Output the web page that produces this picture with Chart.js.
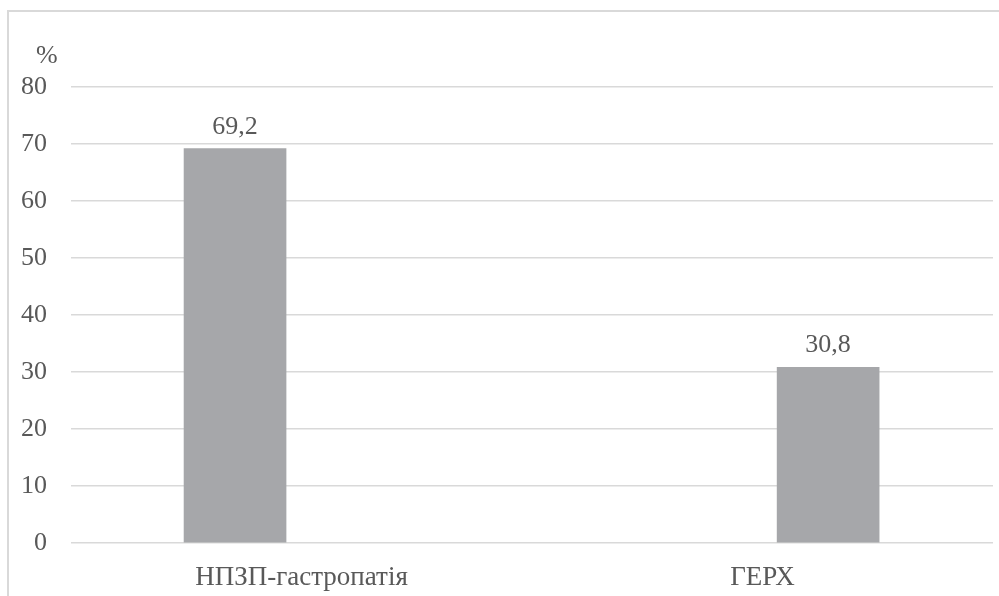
<!DOCTYPE html>
<html>
<head>
<meta charset="utf-8">
<script src="https://cdn.jsdelivr.net/npm/chart.js@4.4.0/dist/chart.umd.min.js"></script>
<style>
  body { margin: 0; background: #fff; overflow: hidden; }
  #wrap { position: relative; width: 999px; height: 596px; }
  #frame { position: absolute; left: 7px; top: 10px; width: 1100px; height: 700px;
           border-left: 2px solid #d9d9d9; border-top: 2px solid #d9d9d9; pointer-events: none; }
  canvas { position: absolute; left: 0; top: 0; }
</style>
</head>
<body>
<div id="wrap">
  <canvas id="chart" width="999" height="596"></canvas>
  <div id="frame"></div>
</div>
<script>
const categories = ['НПЗП-гастропатія', 'ГЕРХ'];
const values = [69.2, 30.8];
const valueLabels = ['69,2', '30,8'];
const yTicks = [0, 10, 20, 30, 40, 50, 60, 70, 80];

const textColor = '#595959';
const serif = '"Liberation Serif", "Times New Roman", serif';

// value labels above the bars and the % unit above the axis
const labelsPlugin = {
  id: 'labels',
  afterDatasetsDraw(chart) {
    const ctx = chart.ctx;
    ctx.save();
    ctx.font = '26px ' + serif;
    ctx.fillStyle = textColor;
    ctx.textAlign = 'center';
    ctx.textBaseline = 'alphabetic';
    chart.getDatasetMeta(0).data.forEach(function(bar, i) {
      ctx.fillText(valueLabels[i], bar.x, bar.y - 15);
    });
    const y = chart.scales.y;
    ctx.textAlign = 'left';
    ctx.fillText('%', 36, y.getPixelForValue(80) - 24);
    ctx.restore();
  }
};

const data = {
  labels: categories,
  datasets: [{
    xAxisID: 'xBar',
    data: values.map((v, i) => ({ x: i, y: v })),
    backgroundColor: '#a6a7aa',
    borderWidth: 0,
    barThickness: 102
  }]
};

const config = {
  type: 'bar',
  data: data,
  options: {
    responsive: false,
    animation: false,
    layout: { padding: { top: 87, right: 6, left: 0, bottom: 0 } },
    plugins: { legend: { display: false }, tooltip: { enabled: false } },
    scales: {
      // bars sit off the category centres, as in the source chart
      xBar: {
        type: 'linear',
        position: 'bottom',
        offset: false,
        min: -0.2766,
        max: 1.278,
        grid: { display: false },
        border: { display: false },
        ticks: { display: false },
        afterDataLimits(scale) { scale.min = -0.2766; scale.max = 1.278; },
        afterFit(scale) { scale.height = 0; }
      },
      x: {
        type: 'category',
        position: 'bottom',
        offset: true,
        grid: { display: false },
        border: { display: false },
        afterFit(scale) { scale.height = 53; },
        ticks: {
          color: textColor,
          font: { family: serif, size: 27 },
          padding: 11,
          autoSkip: false,
          maxRotation: 0
        }
      },
      y: {
        min: 0,
        max: 80,
        afterBuildTicks(scale) { scale.ticks = yTicks.map(v => ({ value: v })); },
        afterFit(scale) { scale.width = 71; },
        grid: { color: '#d9d9d9', lineWidth: 1.5, drawTicks: false },
        border: { display: false },
        ticks: { color: textColor, font: { family: serif, size: 26 }, padding: 24 }
      }
    }
  },
  plugins: [labelsPlugin]
};

const chart = new Chart(document.getElementById('chart'), config);
</script>
</body>
</html>
